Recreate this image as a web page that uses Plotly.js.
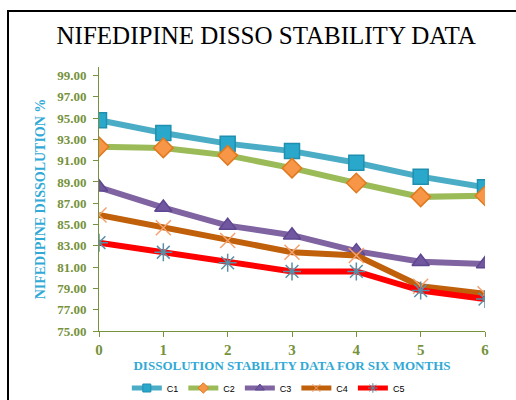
<!DOCTYPE html>
<html>
<head>
<meta charset="utf-8">
<script src="https://cdn.plot.ly/plotly-3.0.1.min.js"></script>
<style>
html,body{margin:0;padding:0;background:#fff;}
#chart{width:516px;height:400px;position:relative;}
#frame{position:absolute;left:7px;top:10px;width:520px;height:400px;border-left:2px solid #000;border-top:2px solid #000;pointer-events:none;}
</style>
</head>
<body>
<div style="position:relative;width:516px;height:400px;overflow:hidden;">
<div id="chart"></div>
<div id="frame"></div>
</div>
<script>
const months = [0, 1, 2, 3, 4, 5, 6];
const seriesNames = ["C1", "C2", "C3", "C4", "C5"];
const c1 = [94.8, 93.6, 92.6, 91.9, 90.8, 89.5, 88.5];
const c2 = [92.3, 92.2, 91.5, 90.3, 88.9, 87.6, 87.7];
const c3 = [88.5, 86.6, 84.9, 84.0, 82.5, 81.5, 81.3];
const c4 = [85.9, 84.7, 83.5, 82.4, 82.1, 79.2, 78.5];
const c5 = [83.3, 82.4, 81.4, 80.6, 80.6, 78.8, 78.0];
const yTicks = [75, 77, 79, 81, 83, 85, 87, 89, 91, 93, 95, 97, 99];

const styles = [
  {line: "#4BACC6", mcolor: "#2AA8CC", mline: "#1F8FB0", symbol: "square", size: 15},
  {line: "#9BBB59", mcolor: "#F79646", mline: "#E07A20", symbol: "diamond", size: 15},
  {line: "#8064A2", mcolor: "#7057A0", mline: "#5E4790", symbol: "triangle-up", size: 15},
  {line: "#C0600A", mcolor: "#F4A070", mline: "#F4A070", symbol: "x-thin-open", size: 15},
  {line: "#FF0000", mcolor: "#5B8FA8", mline: "#5B8FA8", symbol: "asterisk-open", size: 15}
];
const data = [c1, c2, c3, c4, c5];

const traces = data.map((ys, i) => ({
  x: months, y: ys, name: seriesNames[i], type: "scatter", mode: "lines+markers",
  showlegend: false,
  line: {color: styles[i].line, width: 6},
  marker: {symbol: styles[i].symbol, size: styles[i].size, color: styles[i].mcolor,
           line: {color: styles[i].mline, width: 1.5}}
}));
// legend entries with smaller markers (no data drawn)
const legendTraces = seriesNames.map((nm, i) => ({
  x: [null], y: [null], name: nm, type: "scatter", mode: "lines+markers",
  line: {color: styles[i].line, width: 5},
  marker: {symbol: styles[i].symbol, size: 8, color: styles[i].mcolor,
           line: {color: styles[i].mline, width: 1}}
}));

const axisColor = "#76923C";
const layout = {
  width: 516, height: 400,
  margin: {l: 99, r: 31, t: 67, b: 69},
  paper_bgcolor: "#fff", plot_bgcolor: "#fff",
  showlegend: true,
  title: {text: "NIFEDIPINE DISSO STABILITY DATA", xref: "container", x: 0.516, xanchor: "center",
          yref: "container", y: 0.9125, yanchor: "middle",
          font: {family: "Liberation Serif, Times New Roman, serif", size: 25, color: "#000"}},
  xaxis: {
    range: [0, 6], tickvals: months, ticktext: months.map(String),
    showgrid: false, zeroline: false, showline: true, linecolor: axisColor, linewidth: 1,
    ticks: "outside", ticklen: 5, tickcolor: axisColor,
    tickfont: {family: "Liberation Serif, serif", size: 15, color: axisColor, weight: "bold"},
    title: {text: "<b>DISSOLUTION STABILITY DATA FOR SIX MONTHS</b>", standoff: 4,
            font: {family: "Liberation Serif, serif", size: 13, color: "#31A9D6"}}
  },
  yaxis: {
    range: [75, 99.8], tickvals: yTicks, ticktext: yTicks.map(v => v.toFixed(2)),
    showgrid: false, zeroline: false, showline: true, linecolor: axisColor, linewidth: 1,
    ticks: "outside", ticklen: 5, tickcolor: axisColor, ticklabelstandoff: 4,
    tickfont: {family: "Liberation Serif, serif", size: 13, color: axisColor, weight: "bold"},
    title: {text: "<b>NIFEDIPINE DISSOLUTION %</b>", standoff: 8,
            font: {family: "Liberation Serif, serif", size: 14, color: "#31A9D6"}}
  },
  legend: {orientation: "h", x: 0.52, xref: "container", xanchor: "center", y: 0.03, yref: "container", yanchor: "middle",
           font: {family: "Liberation Sans, sans-serif", size: 9, color: "#000"},
           itemwidth: 30, tracegroupgap: 0}
};

Plotly.newPlot("chart", traces.concat(legendTraces), layout, {displayModeBar: false, staticPlot: true});
</script>
</body>
</html>
